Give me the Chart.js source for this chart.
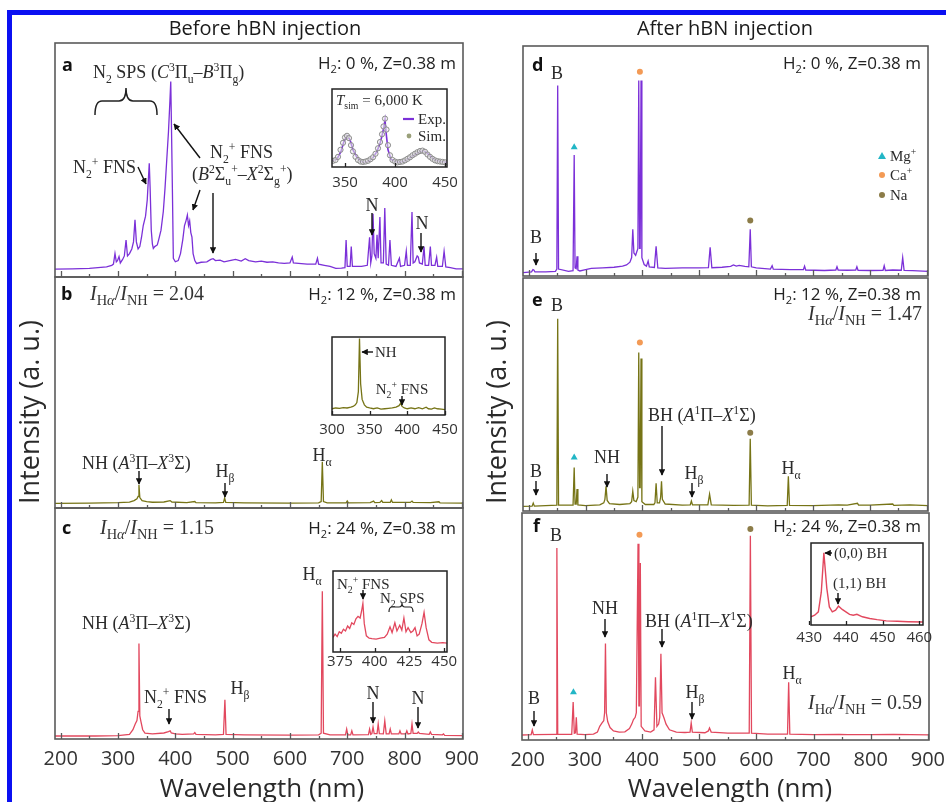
<!DOCTYPE html>
<html>
<head>
<meta charset="utf-8">
<script src="https://cdn.jsdelivr.net/npm/chart.js@4.4.1/dist/chart.umd.min.js"></script>
<style>
  body { margin: 0; background: #fff; }
  #fig { position: relative; width: 946px; height: 802px; overflow: hidden; background: #fff; }
  #fig canvas { position: absolute; }
  .blue { position: absolute; left: 7px; top: 10px; width: 960px; height: 820px;
          border-left: 5px solid #0b10f2; border-top: 5px solid #0b10f2; }
  .t { position: absolute; white-space: nowrap; line-height: 1; }
  .t sub, .t sup { font-size: 65%; line-height: 0; }
  .sv { font-family: 'Liberation Serif', 'Times New Roman', serif; font-size: 18px; color: #2b2b2b; }
  .sm { font-family: 'Liberation Serif', 'Times New Roman', serif; font-size: 15px; color: #2b2b2b; }
  .ss { font-family: 'Open Sans', sans-serif; font-size: 17px; color: #222; }
  .lt { font-family: 'Open Sans', sans-serif; font-size: 18px; font-weight: bold; color: #111; }
  .rt { font-family: 'Liberation Serif', 'Times New Roman', serif; font-size: 20px; color: #333; }
  .rt sub { font-size: 72%; }
  .hd { font-family: 'Open Sans', sans-serif; font-size: 20px; color: #1a1a1a; }
  .ax { font-family: 'Open Sans', sans-serif; font-size: 26px; color: #2a2a2a; }
  .ay { font-family: 'Open Sans', sans-serif; font-size: 27px; color: #2a2a2a; }
  svg { position: absolute; left: 0; top: 0; }
</style>
</head>
<body>
<div id="fig"><div class="blue"></div></div>
<script>
// ---- data -------------------------------------------------------------
const xTicks = [200, 300, 400, 500, 600, 700, 800, 900];
const xMinor = [250, 350, 450, 550, 650, 750, 850];

// panel a : H2 0 %, before hBN  [wavelength nm, intensity a.u.]
const specA = [[190,3.4],[220,3.5],[250,3.7],[280,4.3],[289,5],[292,5.5],[294.7,10],[297,6.5],[299,7],[301.7,8.7],
  [304,6],[308,7.5],[311,9],[314,15.8],[316.5,9],[320,10],[324,12],[327,15],[329.6,24.4],[332,15],[335,12],[338,13],
  [341,17],[344,22],[348,26],[351,33],[353,42],[354.5,48.6],[356,38],[358,20],[360,14],[361.6,12.2],[364,13],[368.5,13.7],
  [371,16],[375,20],[379,28],[382,38],[385,50],[388,62],[390.5,75],[392,83.5],[393.5,60],[395,35],[396.5,8],[400,6.5],
  [405,7],[409,10],[413,16],[416,22],[418.6,24],[421,26.5],[423,22],[425,24],[427,19],[429,17],[431,10],[434,7],[437,5.8],
  [445,6.3],[455,6.5],[462,7.5],[466,7.8],[470,7],[478,7.2],[485,6.5],[495,7],[505,7.5],[515,6.8],[522,7.8],[528,7],
  [540,6.5],[550,6.8],[560,6.3],[570,6.5],[580,6],[590,5.8],[600,6],[604,8.5],[606,6],[615,5.8],[630,5.5],[645,5.5],
  [648,8],[650,5.5],[660,5],[670,4.5],[680,3.7],[690,3.8],[696,4],[698,15.8],[700,4.5],[705,4.5],[707,13],[709,4.5],
  [715,4.5],[725,4.5],[735,5],[739,17],[741,6],[743,9],[745,27],[747,10],[750,8],[752,18],[754,8],[757,25.6],[759,6],
  [763,6],[765.5,29.5],[768,5.5],[772,5],[774.5,15.8],[777,5],[785,4.5],[791,8],[793,4.5],[800,5],[803,11],[805,5],
  [810,5],[813,27.8],[815,6],[818,6.5],[822,9],[824,8.5],[826,6],[831,5.5],[834,13],[836,5],[842,5],[845,13],[847,5],
  [853,5],[856,8.5],[858,4.5],[866,4.5],[869,11],[872,4.3],[880,4],[890,3.5],[902,3.5]];

// panel b : H2 12 %, before hBN
const specB = [[190,2],[250,2.1],[300,2.3],[320,2.5],[328,3.2],[333,4],[335,5],[336.5,10],[338,4.5],[342,3.2],[350,2.8],
  [360,2.5],[380,2.6],[391,3.2],[394,2.6],[420,2.3],[434,2.8],[436,2.3],[470,2.2],[484,2.4],[486,4.3],[488,2.4],[520,2.2],
  [600,2.1],[650,2.2],[654.5,2.8],[656.5,20],[658.5,2.8],[665,2.2],[698,2.2],[700,3],[702,2.2],[740,2.3],[746,3],[748,2.3],
  [757,2.4],[760,3.2],[762,2.4],[775,2.4],[777,3.5],[779,2.4],[810,2.4],[813,3],[815,2.4],[845,2.3],[860,2.7],[862,2.2],[902,2.1]];

// panel c : H2 24 %, before hBN
const specC = [[190,1.3],[260,1.3],[300,1.5],[320,2],[326,4],[330,6.5],[333,8],[335,12],[336.5,41.3],[338,10],[340,7.5],
  [343,4],[347,2.5],[360,2.2],[380,2.6],[388,3.2],[391,3.5],[393,2.6],[400,2.2],[412,2],[432,2.2],[434,2.8],[436,2],
  [470,1.8],[484,2],[486.5,17],[488.5,2],[520,1.8],[600,1.7],[650,1.8],[654.5,2.5],[656.5,64],[658.5,2.5],[670,1.8],
  [697,1.8],[699,4.3],[701,1.8],[706,1.8],[708,3.5],[710,1.8],[737,1.9],[739,4.3],[741,2],[743,2.3],[745,5.2],[747,2.3],
  [752,2.3],[754,6.5],[756,2.3],[763,2.2],[765.5,7.8],[768,2.2],[773,2.2],[775,4.3],[777,2.2],[790,2.2],[792,3.5],[794,2.2],
  [802,2.2],[804,3.5],[806,2.2],[811,2.4],[813,6.5],[815,2.4],[822,2.4],[824,3],[826,2.4],[843,2],[845,3],[847,2],
  [866,1.8],[868,2.2],[870,1.6],[902,1.5]];

// panel d : H2 0 %, after hBN
const specD = [[190,1.5],[205,1.8],[207.5,2.8],[209,2.6],[211,1.8],[230,1.8],[247,2],[249.5,3],[251,82.8],[252.5,3],
  [270,2],[278,2.3],[280,52.6],[281.5,3.5],[283.5,3.2],[285,8.6],[286.5,2.6],[290,2.2],[300,2.8],[310,3.3],[330,3.5],
  [350,3.8],[365,4.3],[372,4.8],[378,6],[381,8],[383,20.3],[385,10],[388,9],[392,12],[393.5,85],[395,12],[396,12],
  [397.5,85],[399,8],[403,5],[407,4.3],[410,6.5],[412,4],[421,3.7],[424,12.9],[427,3.5],[440,3.3],[470,3.5],[500,3.5],
  [516,3.6],[519,12.5],[522,3.6],[540,3.8],[555,4.2],[560,4.8],[565,4.3],[570,4.6],[580,4.2],[587,4],[589.5,20.3],
  [591.5,4],[600,3.5],[625,3],[628,4.5],[630,3],[660,2.8],[683,2.8],[685,4.3],[687,2.6],[720,2.4],[740,2.6],[742,4],
  [744,2.6],[760,2.5],[775,2.6],[777,4],[779,2.5],[800,2.4],[823,2.5],[825,4.5],[827,2.4],[840,2.6],[855,2.5],[857.5,8],
  [860,2.4],[875,2.3],[902,2]];

// panel e : H2 12 %, after hBN
const specE = [[190,2],[206,2.1],[208,3.4],[210,2.1],[249.5,2.5],[251,82.5],[252.5,2.5],[278,2.5],[280,18.7],[281.5,3],
  [283.5,3],[285,9.4],[286.5,2.6],[300,2.3],[325,2.6],[332,3.5],[334,5],[336,10.6],[338,4.5],[342,3.2],[360,2.8],
  [378,3.2],[381,4],[383,8.5],[385,4.5],[389,4],[392,6],[393.5,68],[395,10],[396,10],[397.5,65.5],[399,4],[405,2.8],
  [420,2.8],[422,3.5],[424,11.9],[426,3.5],[430,3.5],[432,6],[433.5,12.8],[435,5],[440,3],[470,2.5],[484,2.6],[486,4.3],
  [488,2.6],[515,2.6],[518,7.2],[521,2.6],[560,2.4],[587.5,2.5],[589.5,31],[591.5,2.5],[620,2.2],[654.5,2.4],[656.5,14.9],
  [658.5,2.4],[700,2.3],[745,2.6],[760,2.5],[778,3.3],[780,2.5],[800,2.5],[840,3],[842,2.4],[870,2.6],[902,2.3]];

// panel f : H2 24 %, after hBN
const specF = [[190,2.2],[206,2.4],[208,4.4],[210,2.4],[249.5,2.5],[251,84.6],[252.5,2.5],[277,2.5],[279.5,16.7],[281.5,3],
  [283.5,3.2],[285,10],[286.5,2.6],[300,2.4],[315,2.6],[322,3.5],[326,6],[330,7.5],[333,8.5],[334.5,12],[336,42.5],
  [337.5,12],[340,8],[344,5.5],[350,4],[360,3.5],[370,3.6],[378,5],[382,7],[385,9],[388,10],[390,12],[393,86.4],
  [394.5,15],[395.5,15],[397,78],[398.5,6],[405,4],[415,3.5],[421,4.5],[423.5,27.6],[426,6],[429,7],[431,10],[433,38],
  [435,12],[438,10],[442,7],[448,4.5],[460,3.5],[475,3.3],[484,3.5],[486,7.5],[488,3.5],[510,3.2],[516,4],[518,5.3],
  [521,3.5],[550,3],[587.5,3],[589.5,90],[591.5,3],[620,2.6],[654.5,2.6],[656.5,25.4],[658.5,2.6],[700,2.4],[745,2.5],
  [760,2.4],[800,2.4],[840,2.5],[870,2.4],[902,2.3]];

// element markers above the peaks (Mg+, Ca+, Na)
const mgD = [[280, 56]],   caD = [[395.5, 88.8]], naD = [[589.5, 24.1]];
const mgE = [[280, 23]],   caE = [[395.5, 72.3]], naE = [[589.5, 33.6]];
const mgF = [[280, 21]],   caF = [[395.5, 90.4]], naF = [[589.5, 93]];

// insets
const insetATicks = [350, 400, 450];
const insetAExp = [[337,8],[342,10],[346,20],[349,33],[352,40],[355,35],[358,22],[362,12],[366,7],[370,6],[374,8],
  [378,12],[382,20],[385,30],[387,40],[389,52],[390,60],[391,45],[393,22],[396,10],[400,7],[405,6],[410,8],[415,12],
  [420,16],[424,19],[428,21],[432,18],[436,13],[440,9],[445,7],[452,6]];
const insetASim = [[338,8],[340.5,9],[343,13],[345.5,22],[348,31],[350,38],[352,40],[354,37],[356,28],[358,20],
  [360.5,13],[363,9],[365.5,7],[368,6.5],[370.5,7],[373,8],[375.5,10],[378,12.5],[380.5,17],[383,24],[385,32],[387,42],
  [388.5,52],[390,62],[391.5,48],[393,28],[395,15],[397.5,9],[400,7],[402.5,6],[405,6.5],[407.5,7],[410,8.5],[412.5,10.5],
  [415,12.5],[417.5,15],[420,17],[422.5,19],[425,20.5],[427.5,21],[430,19.5],[432.5,16],[435,13],[437.5,10.5],[440,8.5],
  [442.5,7.5],[445,7],[447.5,6.5],[450,6]];

const insetBTicks = [300, 350, 400, 450];
const insetB = [[300,8],[305,9],[310,8.5],[315,9.5],[320,9],[325,10],[328,11],[331,13],[333,16],[335,30],[336.5,98],
  [338,40],[340,20],[343,13],[346,10],[350,9],[355,8],[360,9],[365,7.5],[370,8],[375,8.5],[380,9],[385,10],[389,12],
  [391,15],[393,11],[396,9],[400,8],[405,9],[410,8],[415,9.5],[420,8],[425,10],[428,8],[432,7.5],[436,9],[440,8],
  [445,7.5],[450,7]];

const insetCTicks = [375, 400, 425, 450];
const insetC = [[370,18],[371.5,22],[373,19],[374.5,25],[376,23],[377.5,28],[379,26],[380.5,32],[382,29],[383.5,36],
  [385,34],[386.5,41],[388,44],[389.5,42],[390.5,50],[391.5,60],[392.5,35],[394,20],[396,17],[398,16.5],[401,16],
  [404,17],[407,18],[409,22],[411,31],[412.5,24],[414.5,36],[416,26],[418,33],[419.5,27],[421,42],[422.5,25],[424,30],
  [426,24],[427.5,26],[429,30],[430.5,20],[432,22],[434,35],[435.5,49],[437,30],[439,15],[441,12],[445,11],[449,11.5],[452,11]];

const insetFTicks = [430, 440, 450, 460];
const insetF = [[430.5,10],[431.5,12],[432.5,16],[433.3,40],[434,88],[434.8,45],[435.5,22],[436.3,16],[437.2,18],
  [438,23],[439,19],[440,16],[441,13],[442,12],[443,13],[444.5,10],[446.5,8],[448.5,6.5],[451,5],[454,4.5],[457,4],[461,3.7]];

// ---- drawing ----------------------------------------------------------
const PURPLE = '#7b30d8', OLIVE = '#767416', RED = '#e2485e';
const CYAN = '#22b6c6', ORANGE = '#f39a55', BROWN = '#8c7c48';
const fig = document.getElementById('fig');

// frame, inward ticks and tick labels drawn from the x scale
const framePlugin = {
  id: 'frame',
  beforeDraw(chart, args, o) {
    if (!o.bg) return;
    const a = chart.chartArea;
    chart.ctx.fillStyle = o.bg;
    chart.ctx.fillRect(a.left, a.top, a.right - a.left, a.bottom - a.top);
  },
  afterDraw(chart, args, o) {
    const { ctx, chartArea: a } = chart;
    const x = chart.scales.x;
    ctx.save();
    ctx.strokeStyle = o.color;
    ctx.lineWidth = o.width;
    ctx.strokeRect(a.left, a.top, a.right - a.left, a.bottom - a.top);
    ctx.beginPath();
    o.major.forEach(v => {
      const px = Math.round(x.getPixelForValue(v)) + 0.5;
      ctx.moveTo(px, a.bottom); ctx.lineTo(px, a.bottom - o.len);
    });
    (o.minor || []).forEach(v => {
      const px = Math.round(x.getPixelForValue(v)) + 0.5;
      ctx.moveTo(px, a.bottom); ctx.lineTo(px, a.bottom - o.len / 2);
    });
    ctx.lineWidth = 1.3;
    ctx.stroke();
    if (o.labels) {
      ctx.fillStyle = '#333';
      ctx.font = o.font;
      ctx.textAlign = 'center';
      ctx.textBaseline = 'middle';
      o.major.forEach(v => ctx.fillText(String(v), x.getPixelForValue(v), a.bottom + o.offset));
    }
    ctx.restore();
  }
};

function line(data, color, w) {
  return { data, borderColor: color, borderWidth: w || 1.3, pointRadius: 0, order: 2 };
}
function marks(data, color, style) {
  return { data, showLine: false, pointStyle: style, pointRadius: style === 'triangle' ? 4 : 3,
           pointBackgroundColor: color, pointBorderColor: color, pointBorderWidth: 0, order: 1 };
}

// box = [left, right, top, bottom] of the plot area in page pixels
function spectrum(box, range, datasets, frame, pad) {
  const p = Object.assign({ l: 3, r: 3, t: 3, b: 3 }, pad);
  const w = box[1] - box[0] + p.l + p.r, h = box[3] - box[2] + p.t + p.b;
  const cv = document.createElement('canvas');
  cv.width = w; cv.height = h;
  cv.style.cssText = `left:${box[0] - p.l}px;top:${box[2] - p.t}px;width:${w}px;height:${h}px`;
  fig.appendChild(cv);
  new Chart(cv, {
    type: 'line',
    data: { datasets },
    options: {
      responsive: false, animation: false, devicePixelRatio: 1,
      layout: { padding: { left: p.l, right: p.r, top: p.t, bottom: p.b } },
      plugins: { legend: { display: false }, tooltip: { enabled: false }, frame },
      scales: {
        x: { type: 'linear', min: range[0], max: range[1], display: false },
        y: { min: 0, max: 100, display: false }
      },
      elements: { line: { tension: 0 } }
    },
    plugins: [framePlugin]
  });
}

const mainFrame = { color: '#5a5a5a', width: 1.6, major: xTicks, minor: xMinor, len: 6 };
const bottomFrame = Object.assign({}, mainFrame, { labels: true, font: '20px "Open Sans"', offset: 20 });
const padBottom = { l: 24, r: 24, b: 34 };
const range = [190, 902];

spectrum([55, 463, 43, 277], range, [line(specA, PURPLE)], mainFrame);
spectrum([55, 463, 277, 508], range, [line(specB, OLIVE)], mainFrame);
spectrum([55, 463, 508, 739], range, [line(specC, RED)], bottomFrame, padBottom);
spectrum([522, 929, 45, 277], range, [line(specD, PURPLE), marks(mgD, CYAN, 'triangle'),
  marks(caD, ORANGE, 'circle'), marks(naD, BROWN, 'circle')], mainFrame);
spectrum([522, 929, 277, 512], range, [line(specE, OLIVE), marks(mgE, CYAN, 'triangle'),
  marks(caE, ORANGE, 'circle'), marks(naE, BROWN, 'circle')], mainFrame);
spectrum([522, 929, 512, 740], range, [line(specF, RED), marks(mgF, CYAN, 'triangle'),
  marks(caF, ORANGE, 'circle'), marks(naF, BROWN, 'circle')], bottomFrame, padBottom);

const insetFrame = (ticks, off) => ({ color: '#222', width: 1.5, major: ticks, len: 4, labels: true,
  font: '15px "Open Sans"', offset: off, bg: '#fff' });
const padInset = { l: 16, r: 16, b: 26 };

spectrum([332, 447, 87, 167], [337, 452], [line(insetAExp, PURPLE, 1.6),
  { data: insetASim, showLine: false, pointRadius: 2.6, pointBorderWidth: 1, pointBorderColor: '#8d8d8d',
    pointBackgroundColor: 'rgba(235,235,235,0.55)', order: 1 }], insetFrame(insetATicks, 16), padInset);
spectrum([332, 445, 337, 415], [300, 450], [line(insetB, OLIVE, 1.3)], insetFrame(insetBTicks, 15), padInset);
spectrum([333, 447, 571, 652], [370, 452], [line(insetC, RED, 1.3)], insetFrame(insetCTicks, 10), padInset);
spectrum([811, 923, 543, 625], [430.5, 461], [line(insetF, RED, 1.4)], insetFrame(insetFTicks, 13), padInset);

// ---- text -------------------------------------------------------------
const N2p = 'N<sub>2</sub><sup>+</sup> FNS';
const ratio = v => '<i>I</i><sub>H<i>α</i></sub>/<i>I</i><sub>NH</sub> = ' + v;
const texts = [
  [265, 28, 'c', 'hd', 'Before hBN injection'],
  [725, 28, 'c', 'hd', 'After hBN injection'],
  [262, 787, 'c', 'ax', 'Wavelength (nm)'],
  [730, 787, 'c', 'ax', 'Wavelength (nm)'],
  [62, 64, 'l', 'lt', 'a'], [61, 293, 'l', 'lt', 'b'], [62, 527, 'l', 'lt', 'c'],
  [532, 64, 'l', 'lt', 'd'], [532, 299, 'l', 'lt', 'e'], [533, 525, 'l', 'lt', 'f'],
  [456, 62, 'r', 'ss', 'H<sub>2</sub>: 0 %, Z=0.38 m'],
  [456, 293, 'r', 'ss', 'H<sub>2</sub>: 12 %, Z=0.38 m'],
  [456, 527, 'r', 'ss', 'H<sub>2</sub>: 24 %, Z=0.38 m'],
  [921, 62, 'r', 'ss', 'H<sub>2</sub>: 0 %, Z=0.38 m'],
  [921, 293, 'r', 'ss', 'H<sub>2</sub>: 12 %, Z=0.38 m'],
  [921, 525, 'r', 'ss', 'H<sub>2</sub>: 24 %, Z=0.38 m'],
  [90, 293, 'l', 'rt', ratio('2.04')],
  [100, 527, 'l', 'rt', ratio('1.15')],
  [922, 313, 'r', 'rt', ratio('1.47')],
  [922, 702, 'r', 'rt', ratio('0.59')],
  // panel a
  [93, 72, 'l', 'sv', 'N<sub>2</sub> SPS (<i>C</i><sup>3</sup>Π<sub>u</sub>–<i>B</i><sup>3</sup>Π<sub>g</sub>)'],
  [73, 167, 'l', 'sv', N2p],
  [210, 152, 'l', 'sv', N2p],
  [192, 174, 'l', 'sv', '(<i>B</i><sup>2</sup>Σ<sub>u</sub><sup>+</sup>–<i>X</i><sup>2</sup>Σ<sub>g</sub><sup>+</sup>)'],
  [372, 205, 'c', 'sv', 'N'], [422, 223, 'c', 'sv', 'N'],
  [336, 100, 'l', 'sm', '<i>T</i><sub>sim</sub> = 6,000 K'],
  [418, 119, 'l', 'sm', 'Exp.'], [418, 136, 'l', 'sm', 'Sim.'],
  // panel b
  [82, 463, 'l', 'sv', 'NH (<i>A</i><sup>3</sup>Π–<i>X</i><sup>3</sup>Σ)'],
  [225, 471, 'c', 'sv', 'H<sub>β</sub>'], [322, 455, 'c', 'sv', 'H<sub>α</sub>'],
  [375, 352, 'l', 'sm', 'NH'], [402, 389, 'c', 'sm', N2p],
  // panel c
  [312, 574, 'c', 'sv', 'H<sub>α</sub>'],
  [82, 623, 'l', 'sv', 'NH (<i>A</i><sup>3</sup>Π–<i>X</i><sup>3</sup>Σ)'],
  [144, 697, 'l', 'sv', N2p], [240, 688, 'c', 'sv', 'H<sub>β</sub>'],
  [373, 693, 'c', 'sv', 'N'], [418, 698, 'c', 'sv', 'N'],
  [337, 584, 'l', 'sm', N2p], [380, 598, 'l', 'sm', 'N<sub>2</sub> SPS'],
  // panel d
  [557, 73, 'c', 'sv', 'B'], [536, 237, 'c', 'sv', 'B'],
  [890, 156, 'l', 'sm', 'Mg<sup>+</sup>'], [890, 175, 'l', 'sm', 'Ca<sup>+</sup>'], [890, 195, 'l', 'sm', 'Na'],
  // panel e
  [557, 305, 'c', 'sv', 'B'], [536, 471, 'c', 'sv', 'B'], [607, 457, 'c', 'sv', 'NH'],
  [648, 415, 'l', 'sv', 'BH (<i>A</i><sup>1</sup>Π–<i>X</i><sup>1</sup>Σ)'],
  [694, 473, 'c', 'sv', 'H<sub>β</sub>'], [791, 468, 'c', 'sv', 'H<sub>α</sub>'],
  // panel f
  [556, 535, 'c', 'sv', 'B'], [605, 608, 'c', 'sv', 'NH'],
  [645, 621, 'l', 'sv', 'BH (<i>A</i><sup>1</sup>Π–<i>X</i><sup>1</sup>Σ)'],
  [695, 692, 'c', 'sv', 'H<sub>β</sub>'], [792, 673, 'c', 'sv', 'H<sub>α</sub>'],
  [534, 698, 'c', 'sv', 'B'],
  [834, 553, 'l', 'sm', '(0,0) BH'], [833, 583, 'l', 'sm', '(1,1) BH']
];
texts.forEach(([x, y, al, cls, html]) => {
  const d = document.createElement('div');
  d.className = 't ' + cls;
  d.innerHTML = html;
  const tx = al === 'l' ? '0' : al === 'c' ? '-50%' : '-100%';
  d.style.cssText = `left:${x}px;top:${y}px;transform:translate(${tx},-50%)`;
  fig.appendChild(d);
});
[[28, 412], [495, 412]].forEach(([x, y]) => {
  const d = document.createElement('div');
  d.className = 't ay';
  d.textContent = 'Intensity (a. u.)';
  d.style.cssText = `left:${x}px;top:${y}px;transform:translate(-50%,-50%) rotate(-90deg)`;
  fig.appendChild(d);
});

// ---- arrows, braces, legend glyphs -----------------------------------
const arrows = [
  [138, 167, 146, 184], [200, 158, 174, 124], [200, 190, 193, 210], [213, 193, 213, 253],
  [372, 213, 372, 235], [421, 233, 421, 252],
  [139, 471, 139, 484], [225, 483, 225, 497], [373, 352, 362, 352], [402, 396, 402, 405],
  [169, 709, 169, 724], [373, 702, 373, 723], [418, 707, 418, 728], [363, 590, 363, 599],
  [536, 253, 536, 265],
  [536, 481, 536, 495], [607, 474, 607, 487], [662, 426, 662, 475], [692, 483, 692, 497],
  [605, 619, 605, 637], [662, 629, 662, 647], [692, 702, 692, 719], [534, 711, 534, 726],
  [832, 553, 825, 553], [838, 593, 838, 604]
];
let svg = '<svg width="946" height="802" xmlns="http://www.w3.org/2000/svg">' +
  '<defs><marker id="ah" viewBox="0 0 10 10" refX="9" refY="5" markerWidth="4.6" markerHeight="4.6" orient="auto">' +
  '<path d="M0,0 L10,5 L0,10 z" fill="#111"/></marker></defs>';
arrows.forEach(([x1, y1, x2, y2]) => {
  svg += `<line x1="${x1}" y1="${y1}" x2="${x2}" y2="${y2}" stroke="#111" stroke-width="1.4" marker-end="url(#ah)"/>`;
});
svg += '<path d="M95,115 Q95,101 102,101 L119,101 Q126,101 126,88 Q126,101 133,101 L150,101 Q157,101 157,115" fill="none" stroke="#222" stroke-width="1.5"/>';
svg += '<path d="M389,612 Q389,607 392,607 L399,607 Q402,607 402,603 Q402,607 405,607 L410,607 Q413,607 413,612" fill="none" stroke="#222" stroke-width="1.2"/>';
svg += `<line x1="403" y1="119" x2="414" y2="119" stroke="${PURPLE}" stroke-width="2.2"/>`;
svg += '<circle cx="409" cy="136" r="2.4" fill="#9aa07a"/>';
svg += `<path d="M878,159 L886,159 L882,152 z" fill="${CYAN}"/>`;
svg += `<circle cx="882" cy="175" r="3" fill="${ORANGE}"/>`;
svg += `<circle cx="882" cy="195" r="3" fill="${BROWN}"/>`;
svg += '</svg>';
fig.insertAdjacentHTML('beforeend', svg);
</script>
</body>
</html>
